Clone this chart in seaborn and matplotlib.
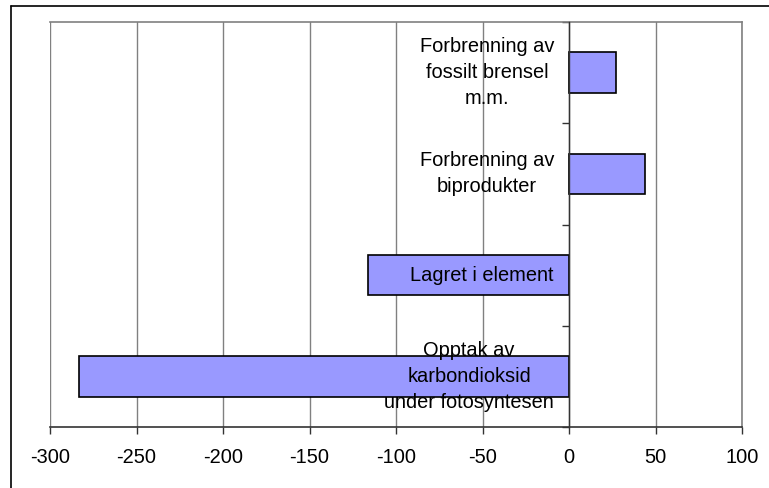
import matplotlib
matplotlib.use("Agg")
import matplotlib.pyplot as plt
import matplotlib.transforms as mtransforms
from matplotlib.lines import Line2D
import pandas as pd
import seaborn as sns

# Carbon balance categories (top to bottom) and their values
categories = [
    "Forbrenning av\nfossilt brensel\nm.m.",
    "Forbrenning av\nbiprodukter",
    "Lagret i element",
    "Opptak av\nkarbondioksid\nunder fotosyntesen",
]
values = [27, 44, -116, -283]
x_ticks = [-300, -250, -200, -150, -100, -50, 0, 50, 100]

sns.set_style("white")
plt.rcParams["font.family"] = ["Liberation Sans", "DejaVu Sans"]

df = pd.DataFrame({"kategori": categories, "verdi": values})

fig = plt.figure(figsize=(7.69, 4.88), dpi=100)
W, H = 769, 488
ax = fig.add_axes([50 / W, 1 - 427 / H, (742 - 50) / W, (427 - 22) / H])

sns.barplot(data=df, x="verdi", y="kategori", orient="h", order=categories,
            color="#9999FF", saturation=1, width=0.4, edgecolor="black",
            linewidth=1.2, ax=ax, zorder=3)
for p in ax.patches:
    p.set_facecolor("#9999FF")

ax.set_xlim(x_ticks[0], x_ticks[-1])
ax.set_ylim(len(categories) - 0.5, -0.5)
ax.set_xlabel("")
ax.set_ylabel("")

# vertical gridlines
ax.set_xticks(x_ticks)
ax.set_xticklabels([str(t) for t in x_ticks], fontsize=14.4, color="black")
ax.xaxis.grid(True, color="#808080", linewidth=1.0, zorder=0)
ax.yaxis.grid(False)
ax.set_axisbelow(True)

# category axis at x = 0 with ticks between categories
ax.spines["left"].set_position(("data", 0))
ax.spines["left"].set_color("#333333")
ax.spines["left"].set_linewidth(1.0)
ax.spines["left"].set_zorder(4)
ax.set_yticks([i - 0.5 for i in range(len(categories) + 1)])
ax.set_yticklabels([])
ax.tick_params(axis="y", direction="out", length=5, width=1.0, color="#333333", left=True)

ax.spines["bottom"].set_color("#333333")
ax.spines["bottom"].set_linewidth(1.2)
ax.tick_params(axis="x", direction="out", length=5, width=1.0, color="#333333",
               bottom=True, pad=10)
for side in ("top", "right"):
    ax.spines[side].set_visible(True)
    ax.spines[side].set_color("#808080")
    ax.spines[side].set_linewidth(1.2)

# category labels beside the axis
offset = mtransforms.offset_copy(ax.transData, fig=fig, x=-15, y=0, units="dots")
for i, lab in enumerate(categories):
    ax.text(0, i, lab, transform=offset, ha="right", va="center",
            multialignment="center", fontsize=14.4, color="black",
            linespacing=1.45, zorder=5)

# outer chart frame
fig.add_artist(Line2D([11 / W, 11 / W], [0, 1 - 6 / H], color="black",
                      linewidth=1.2, transform=fig.transFigure))
fig.add_artist(Line2D([11 / W, 1], [1 - 6 / H, 1 - 6 / H], color="black",
                      linewidth=1.2, transform=fig.transFigure))

fig.savefig("out.png", dpi=100)
